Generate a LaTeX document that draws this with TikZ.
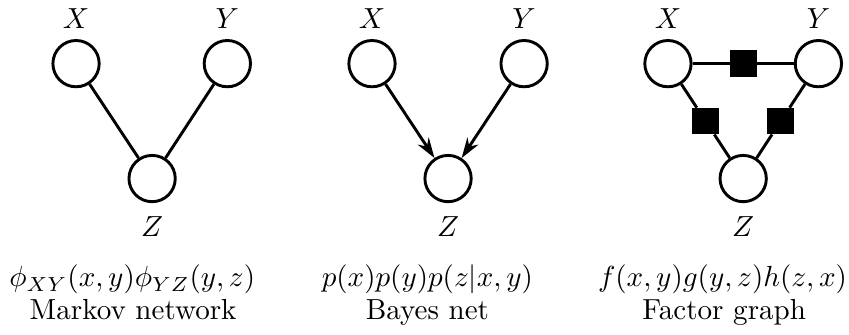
\documentclass[tikz,border=0pt]{standalone}
\usepackage{amsmath,amssymb}
\usepackage{tikz}
\usetikzlibrary{arrows.meta}
\usetikzlibrary{positioning}
\usetikzlibrary{calc}
\tikzset{
  vari/.style={draw, circle, line width=1pt, minimum size=0.56cm, inner sep=0pt},
  fator/.style={draw, fill=black, rectangle, minimum size=0.31cm, inner sep=0pt},
  aresta/.style={line width=1pt},
  seta/.style={line width=1pt, -{Stealth[length=7pt, width=4.5pt]}},
  rotA/.style={label distance=0pt},
  rotB/.style={label distance=1pt},
  legenda/.style={anchor=base, inner sep=0pt},
}

\begin{document}
\begin{tikzpicture}
  \useasboundingbox (0,0) rectangle (10.27,4.05);
  % Markov network
  \node[vari, label={[rotA]above:$X$}] (mnX) at (0.92,3.28) {};
  \node[vari, label={[rotA]above:$Y$}] (mnY) at (2.75,3.28) {};
  \node[vari, label={[rotB]below:$Z$}] (mnZ) at (1.84,1.89) {};
  \draw[aresta] (mnX) -- (mnZ);
  \draw[aresta] (mnY) -- (mnZ);
  \node[legenda] (mnF) at (1.60,0.58) {$\phi_{XY}(x,y)\phi_{YZ}(y,z)$};
  \node[legenda] (mnT) at (1.61,0.18) {Markov network};
  % Bayes net
  \node[vari, label={[rotA]above:$X$}] (bnX) at (4.50,3.28) {};
  \node[vari, label={[rotA]above:$Y$}] (bnY) at (6.34,3.28) {};
  \node[vari, label={[rotB]below:$Z$}] (bnZ) at (5.42,1.89) {};
  \draw[seta] (bnX) -- (bnZ);
  \draw[seta] (bnY) -- (bnZ);
  \node[legenda] (bnF) at (5.17,0.58) {$p(x)p(y)p(z|x,y)$};
  \node[legenda] (bnT) at (5.17,0.18) {Bayes net};
  % Factor graph
  \node[vari, label={[rotA]above:$X$}] (fgX) at (8.08,3.28) {};
  \node[vari, label={[rotA]above:$Y$}] (fgY) at (9.90,3.28) {};
  \node[vari, label={[rotB]below:$Z$}] (fgZ) at (8.99,1.89) {};
  \node[fator] (fgXY) at ($(fgX)!0.5!(fgY)$) {};
  \node[fator] (fgYZ) at ($(fgY)!0.5!(fgZ)$) {};
  \node[fator] (fgZX) at ($(fgZ)!0.5!(fgX)$) {};
  \draw[aresta] (fgX) -- (fgXY) -- (fgY);
  \draw[aresta] (fgY) -- (fgYZ) -- (fgZ);
  \draw[aresta] (fgZ) -- (fgZX) -- (fgX);
  \node[legenda] (fgF) at (8.74,0.58) {$f(x,y)g(y,z)h(z,x)$};
  \node[legenda] (fgT) at (8.76,0.18) {Factor graph};
\end{tikzpicture}
\end{document}
